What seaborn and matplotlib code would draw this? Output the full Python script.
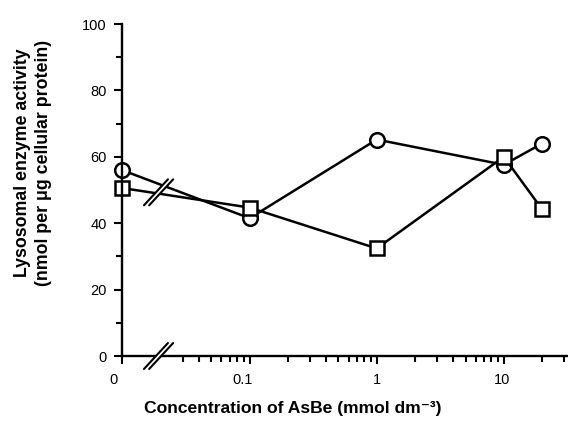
import numpy as np
import pandas as pd
import matplotlib
matplotlib.use("Agg")
import matplotlib.pyplot as plt
import seaborn as sns
from matplotlib.lines import Line2D
from matplotlib.transforms import IdentityTransform, ScaledTranslation
from matplotlib.ticker import FixedLocator, FixedFormatter, NullFormatter

# ---- data ----
concentration = [0, 0.1, 1, 10, 20]
activity_circle = [56.0, 41.5, 65.2, 57.6, 64.0]
activity_square = [50.6, 44.7, 32.4, 60.0, 44.2]
x_tick_values = [0, 0.1, 1, 10]
x_tick_labels = ["0", "0.1", "1", "10"]
y_tick_values = [0, 20, 40, 60, 80, 100]
y_minor_values = [10, 30, 50, 70, 90]

ZERO_POS = 0.0099  # where "0" sits on the broken log axis


def to_plot_x(vals):
    return [ZERO_POS if v == 0 else v for v in vals]


sns.set_style("ticks")
plt.rcParams["font.family"] = ["Liberation Sans", "DejaVu Sans"]
plt.rcParams["text.color"] = "black"
plt.rcParams["axes.edgecolor"] = "black"

W, H = 568, 423
fig = plt.figure(figsize=(W / 100, H / 100), dpi=100)
ax = fig.add_axes([122 / W, 1 - 356 / H, (W - 122) / W, (356 - 24) / H])
ax.set_xscale("log")

df = pd.DataFrame({
    "x": to_plot_x(concentration),
    "circle": activity_circle,
    "square": activity_square,
})

common = dict(color="black", linewidth=1.8, markersize=10.5,
              markerfacecolor="white", markeredgecolor="black",
              markeredgewidth=1.8, clip_on=False)
sns.lineplot(data=df, x="x", y="circle", marker="o", ax=ax, **common)
sns.lineplot(data=df, x="x", y="square", marker="s", ax=ax, **common)

ax.set_xlim(ZERO_POS, 32)
ax.set_ylim(0, 100)
sns.despine(ax=ax)
for s in ("left", "bottom"):
    ax.spines[s].set_linewidth(1.7)
    ax.spines[s].set_color("black")

ax.xaxis.set_major_locator(FixedLocator(to_plot_x(x_tick_values)))
ax.xaxis.set_major_formatter(FixedFormatter(x_tick_labels))
minor_x = list(np.arange(3, 10) * 0.01) + list(np.arange(2, 10) * 0.1) + \
    list(np.arange(2, 10) * 1.0) + [20, 30]
ax.xaxis.set_minor_locator(FixedLocator(minor_x))
ax.xaxis.set_minor_formatter(NullFormatter())
ax.yaxis.set_major_locator(FixedLocator(y_tick_values))
ax.yaxis.set_minor_locator(FixedLocator(y_minor_values))

ax.tick_params(which="major", direction="out", length=6, width=1.5,
               color="black", labelsize=10.5, labelcolor="black")
ax.tick_params(which="minor", direction="out", length=4, width=1.5, color="black")
ax.tick_params(axis="x", which="major", pad=6)
ax.tick_params(axis="y", which="major", pad=5)
ax.set_xlabel("")
ax.set_ylabel("")
ax.grid(False)

# shift some x tick labels slightly left as in the reference
shifts = {"0": -9, "0.1": -7, "1": 0, "10": -2}
for lab in ax.get_xticklabels():
    dx = shifts.get(lab.get_text(), 0)
    lab.set_transform(lab.get_transform() + ScaledTranslation(dx / 100, 0, fig.dpi_scale_trans))

fig.text(33 / W, 1 - 163 / H,
         "Lysosomal enzyme activity\n(nmol per \u03bcg cellular protein)",
         rotation=90, ha="center", va="center", multialignment="center",
         fontsize=12.8, fontweight="bold", linespacing=1.3, color="black")
fig.text(293 / W, 1 - 408 / H, "Concentration of AsBe (mmol dm\u207b\u00b3)",
         ha="center", va="center", fontsize=12.6, fontweight="bold",
         color="black", family=["Liberation Sans", "DejaVu Sans"])


def draw_break(x, y):
    px, py = ax.transData.transform((x, y))
    for dx, col, lw in [(0, "white", 3.2), (-2.6, "black", 1.5), (2.6, "black", 1.5)]:
        fig.add_artist(Line2D([px + dx - 12, px + dx + 12], [py - 13, py + 13],
                              color=col, lw=lw, transform=IdentityTransform(),
                              clip_on=False, zorder=5))


draw_break(0.0192, 0)
draw_break(0.0192, 49.3)

fig.savefig("out.png", dpi=100)
